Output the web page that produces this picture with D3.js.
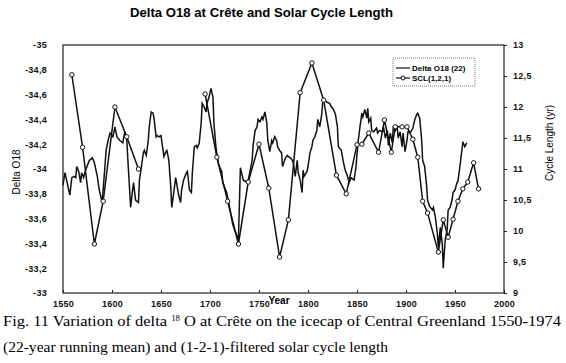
<!DOCTYPE html>
<html>
<head>
<meta charset="utf-8">
<title>Delta O18 at Crête</title>
<script src="https://cdn.jsdelivr.net/npm/d3@7"></script>
<style>
  body { margin: 0; background: #fff; }
  text { font-family: Arial, "Liberation Sans", sans-serif; }
</style>
</head>
<body>
<script>
// delta O18 at Crete, 22-year running mean (left axis, reversed)
var deltaYears = [1550,1552,1557,1559,1561,1563,1564,1566,1568,1569,1571,1573,1577,1580,1582,1585,1587,1590,1594,1596,1598,1601,1603,1605,1608,1611,1613,1615,1616,1618,1619,1621,1622,1624,1627,1628,1630,1632,1633,1635,1637,1638,1640,1642,1643,1645,1646,1648,1650,1651,1653,1655,1656,1658,1660,1661,1663,1665,1668,1670,1671,1673,1676,1677,1679,1681,1682,1684,1686,1687,1689,1691,1692,1694,1696,1697,1699,1701,1703,1704,1706,1708,1709,1712,1713,1715,1717,1720,1723,1725,1728,1729,1731,1734,1736,1739,1743,1744,1746,1748,1749,1751,1753,1754,1756,1758,1759,1761,1763,1764,1766,1768,1769,1771,1773,1774,1777,1779,1780,1782,1784,1785,1787,1789,1790,1792,1794,1795,1796,1799,1800,1802,1804,1805,1807,1809,1810,1812,1814,1815,1817,1819,1822,1824,1826,1828,1830,1831,1834,1836,1838,1840,1842,1844,1847,1849,1851,1853,1855,1856,1858,1860,1861,1862,1864,1865,1867,1870,1871,1873,1876,1877,1879,1881,1882,1884,1886,1887,1889,1891,1892,1894,1896,1897,1899,1901,1902,1905,1907,1909,1911,1912,1914,1916,1917,1919,1921,1922,1924,1927,1928,1930,1932,1933,1935,1937,1938,1940,1942,1943,1945,1947,1948,1950,1952,1953,1955,1957,1958,1960,1962];
var deltaValues = [-33.87,-33.97,-33.79,-33.93,-33.94,-33.93,-34.02,-33.98,-33.89,-33.97,-33.93,-33.99,-34.07,-34.09,-34.05,-33.94,-33.83,-33.73,-34.15,-34.23,-34.29,-34.26,-34.34,-34.26,-34.23,-34.21,-34.30,-34.25,-34.10,-33.83,-33.69,-33.83,-33.89,-33.75,-33.73,-33.91,-34.02,-34.13,-34.15,-34.11,-34.23,-34.34,-34.46,-34.45,-34.40,-34.26,-34.27,-34.26,-34.27,-34.21,-34.10,-34.14,-34.15,-34.07,-33.85,-33.69,-33.81,-33.93,-33.79,-33.73,-33.83,-33.91,-33.97,-33.98,-33.83,-33.81,-33.97,-34.18,-34.19,-34.17,-34.21,-34.37,-34.53,-34.50,-34.46,-34.53,-34.58,-34.65,-34.58,-34.37,-34.18,-34.07,-34.03,-33.98,-33.89,-33.85,-33.81,-33.69,-33.56,-33.51,-33.45,-33.43,-34.01,-33.91,-33.90,-33.91,-34.07,-34.19,-34.31,-34.34,-34.40,-34.38,-34.42,-34.40,-34.46,-34.37,-34.23,-34.14,-34.23,-34.21,-34.26,-34.23,-34.18,-34.15,-34.13,-34.02,-34.09,-34.11,-34.10,-34.09,-34.07,-34.05,-33.94,-34.07,-33.97,-33.91,-33.81,-33.99,-33.94,-33.98,-34.02,-34.13,-34.18,-34.23,-34.26,-34.31,-34.40,-34.34,-34.44,-34.54,-34.56,-34.54,-34.53,-34.50,-34.48,-34.44,-34.34,-34.18,-34.15,-34.06,-33.99,-33.95,-33.89,-33.93,-33.91,-34.02,-34.21,-34.34,-34.45,-34.42,-34.48,-34.41,-34.49,-34.38,-34.41,-34.31,-34.30,-34.33,-34.29,-34.31,-34.30,-34.34,-34.25,-34.31,-34.19,-34.29,-34.21,-34.33,-34.31,-34.34,-34.25,-34.30,-34.18,-34.29,-34.14,-34.23,-34.30,-34.30,-34.33,-34.40,-34.44,-34.45,-34.41,-34.23,-34.07,-34.02,-33.87,-33.75,-33.70,-33.67,-33.69,-33.61,-33.48,-33.37,-33.53,-33.40,-33.20,-33.43,-33.51,-33.67,-33.69,-33.75,-33.81,-33.83,-33.89,-33.90,-34.02,-34.15,-34.22,-34.18,-34.21];

// solar cycle length, (1,2,1)-filtered (right axis); null = gap
var sclYears = [1559,1570,1582,1591,1603,1615,1627,1660,1695,1707,1718,1729,1739,1750,1760,1771,1780,1792,1804,1816,1829,1839,1850,1855,1862,1872,1878,1885,1889,1896,1901,1907,1912,1917,1922,1933,1938,1943,1948,1953,1958,1963,1969,1974];
var sclValues = [12.52,11.35,9.79,10.48,12.00,11.52,11.00,null,12.21,11.19,10.48,9.79,10.79,11.40,10.69,9.58,10.18,12.23,12.71,12.11,10.90,10.60,11.39,11.40,11.58,11.27,11.79,11.27,11.68,11.68,11.68,11.48,11.19,10.48,10.29,9.66,10.18,9.90,10.19,10.48,10.68,10.79,11.10,10.68];

var xTicks = [1550,1600,1650,1700,1750,1800,1850,1900,1950,2000];
var leftTicks = [-35,-34.8,-34.6,-34.4,-34.2,-34,-33.8,-33.6,-33.4,-33.2,-33];
var rightTicks = [13,12.5,12,11.5,11,10.5,10,9.5,9];

var W = 566, H = 363;
var margin = {top: 45, right: 62, bottom: 70, left: 63},
    width = W - margin.left - margin.right,
    height = H - margin.top - margin.bottom;

var svg = d3.select("body").append("svg")
    .attr("width", W)
    .attr("height", H);

var g = svg.append("g")
    .attr("transform", "translate(" + margin.left + "," + margin.top + ")");

var x = d3.scaleLinear().domain([1550, 2000]).range([0, width]);
var yL = d3.scaleLinear().domain([-35, -33]).range([0, height]);
var yR = d3.scaleLinear().domain([9, 13]).range([height, 0]);

var comma = function(d) { return String(d).replace(".", ","); };

// frame
g.append("rect")
    .attr("width", width).attr("height", height)
    .attr("fill", "none").attr("stroke", "#222").attr("stroke-width", 1.2);

var xAxis = g.append("g")
    .attr("transform", "translate(0," + height + ")")
    .call(d3.axisBottom(x).tickValues(xTicks).tickFormat(d3.format("d"))
      .tickSizeInner(-3).tickSizeOuter(0).tickPadding(8));

var lAxis = g.append("g")
    .call(d3.axisLeft(yL).tickValues(leftTicks).tickFormat(comma)
      .tickSize(0).tickPadding(16));

var rAxis = g.append("g")
    .attr("transform", "translate(" + width + ",0)")
    .call(d3.axisRight(yR).tickValues(rightTicks).tickFormat(comma)
      .tickSizeInner(3).tickSizeOuter(0).tickPadding(6));

[xAxis, lAxis, rAxis].forEach(function(a) {
  a.select(".domain").remove();
  a.selectAll("line").attr("stroke", "#222");
  a.selectAll("text")
    .attr("fill", "#111")
    .style("font-size", "9px")
    .style("font-weight", "bold")
    .style("letter-spacing", "0.3px")
    .style("font-family", "Arial, 'Liberation Sans', sans-serif");
});

var delta = deltaYears.map(function(d, i) { return {year: d, value: deltaValues[i]}; });
var scl = sclYears.map(function(d, i) { return {year: d, value: sclValues[i]}; });

g.append("path")
    .datum(delta)
    .attr("fill", "none")
    .attr("stroke", "#111")
    .attr("stroke-width", 1.5)
    .attr("d", d3.line()
      .x(function(d) { return x(d.year); })
      .y(function(d) { return yL(d.value); }));

g.append("path")
    .datum(scl)
    .attr("fill", "none")
    .attr("stroke", "#111")
    .attr("stroke-width", 1.5)
    .attr("d", d3.line()
      .defined(function(d) { return d.value !== null; })
      .x(function(d) { return x(d.year); })
      .y(function(d) { return yR(d.value); }));

g.selectAll(".dot")
    .data(scl.filter(function(d) { return d.value !== null; }))
    .enter().append("circle")
    .attr("class", "dot")
    .attr("cx", function(d) { return x(d.year); })
    .attr("cy", function(d) { return yR(d.value); })
    .attr("r", 2.2)
    .attr("fill", "#fff")
    .attr("stroke", "#111")
    .attr("stroke-width", 1);

// legend
var lg = svg.append("g").attr("transform", "translate(393,58)");
lg.append("rect")
    .attr("width", 82).attr("height", 28)
    .attr("fill", "#fff").attr("stroke", "#555")
    .attr("stroke-width", 0.8).attr("stroke-dasharray", "1,1");
lg.append("line").attr("x1", 3).attr("x2", 17).attr("y1", 10).attr("y2", 10)
    .attr("stroke", "#111").attr("stroke-width", 1.2);
lg.append("text").attr("x", 19).attr("y", 13).text("Delta O18 (22)")
    .style("font-size", "8px").style("font-weight", "bold");
lg.append("line").attr("x1", 3).attr("x2", 17).attr("y1", 20).attr("y2", 20)
    .attr("stroke", "#111").attr("stroke-width", 1.2);
lg.append("circle").attr("cx", 10).attr("cy", 20).attr("r", 2)
    .attr("fill", "#fff").attr("stroke", "#111");
lg.append("text").attr("x", 19).attr("y", 23).text("SCL(1,2,1)")
    .style("font-size", "8px").style("font-weight", "bold");

// titles
svg.append("text")
    .attr("x", 130).attr("y", 17)
    .attr("textLength", 263).attr("lengthAdjust", "spacingAndGlyphs")
    .style("font-size", "13px").style("font-weight", "bold")
    .text("Delta O18 at Crête and Solar Cycle Length");

svg.append("text")
    .attr("transform", "translate(20,172) rotate(-90)")
    .attr("text-anchor", "middle")
    .style("font-size", "10px")
    .text("Delta O18");

svg.append("text")
    .attr("transform", "translate(553,143) rotate(-90)")
    .attr("text-anchor", "middle")
    .style("font-size", "10px")
    .text("Cycle Length (yr)");

svg.append("text")
    .attr("x", 279).attr("y", 304)
    .attr("text-anchor", "middle")
    .style("font-size", "10px").style("font-weight", "bold")
    .text("Year");

// caption
var cap1 = svg.append("text")
    .attr("x", 3).attr("y", 326)
    .attr("textLength", 558).attr("lengthAdjust", "spacingAndGlyphs")
    .style("font-family", "'Liberation Serif', 'Times New Roman', serif")
    .style("font-size", "15px");
cap1.append("tspan").text("Fig. 11  Variation of delta ");
cap1.append("tspan").attr("dy", -5).style("font-size", "8px").text("18");
cap1.append("tspan").attr("dy", 5).text(" O at Crête on the icecap of Central Greenland 1550-1974");

svg.append("text")
    .attr("x", 3).attr("y", 352)
    .attr("textLength", 385).attr("lengthAdjust", "spacingAndGlyphs")
    .style("font-family", "'Liberation Serif', 'Times New Roman', serif")
    .style("font-size", "15px")
    .text("(22-year running mean) and (1-2-1)-filtered solar cycle length");
</script>
</body>
</html>
